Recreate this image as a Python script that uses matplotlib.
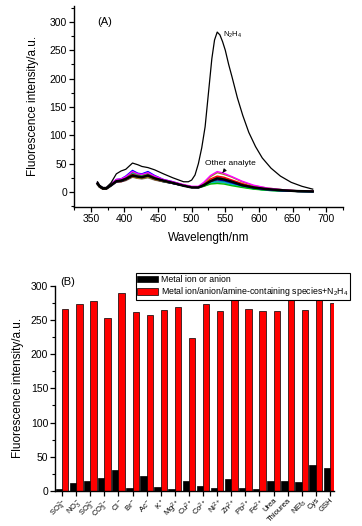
import matplotlib
matplotlib.use("Agg")
import matplotlib.pyplot as plt
from matplotlib.ticker import MultipleLocator
import numpy as np

plt.rcParams['font.family'] = ['Liberation Sans', 'DejaVu Sans']
plt.rcParams['mathtext.fontset'] = 'custom'
plt.rcParams['mathtext.rm'] = 'Liberation Sans'
plt.rcParams['mathtext.it'] = 'Liberation Sans:italic'

# ---- panel A data ----
wl_n2h4 = [360, 363, 368, 373, 380, 388, 395, 402, 412, 420, 426, 435, 445, 458,
           472, 488, 495, 500, 505, 510, 515, 520, 525, 530, 534, 538, 542, 546,
           550, 555, 560, 568, 576, 585, 595, 605, 618, 632, 648, 664, 680]
int_n2h4 = [18, 12, 8, 8, 16, 32, 37, 40, 51, 48, 45, 43, 39, 32,
            25, 18, 18, 21, 30, 50, 78, 115, 175, 235, 268, 282, 277, 265,
            250, 225, 203, 166, 135, 105, 80, 60, 42, 28, 17, 10, 5]

wl = [360, 363, 368, 373, 380, 388, 395, 402, 412, 420, 426, 435, 445, 458, 472,
      488, 500, 510, 518, 528, 538, 548, 560, 575, 592, 612, 635, 658, 680]
other_magenta = [16, 11, 7, 7, 14, 22, 23, 27, 36, 32, 31, 34, 28, 22, 18, 13, 10, 10, 17, 29, 36, 33, 27, 19, 12, 7, 4, 2, 1.5]
other_olive = [14, 9, 6, 6, 12, 19, 20, 22, 27, 24, 24, 26, 22, 19, 16, 12, 9, 9, 15, 27, 34, 31, 26, 18, 11, 7, 4, 2, 1.5]
other_red = [15, 10, 6, 6, 13, 21, 21, 24, 31, 28, 27, 30, 25, 20, 17, 12, 9, 9, 14, 23, 28, 26, 21, 15, 9, 6, 3, 2, 1]
other_blue = [16, 11, 7, 7, 14, 22, 23, 28, 38, 33, 32, 36, 29, 22, 18, 12, 9, 9, 12, 19, 22, 20, 16, 11, 7, 4, 2, 1, 0.5]
other_green = [15, 10, 6, 6, 13, 21, 22, 26, 35, 31, 30, 33, 27, 21, 17, 12, 9, 8, 10, 14, 15, 14, 11, 8, 5, 3, 1.5, 1, 0.5]
other_cyan = [14, 10, 6, 6, 12, 20, 21, 25, 33, 29, 28, 31, 26, 20, 16, 11, 9, 8, 11, 16, 18, 17, 13, 9, 6, 3, 2, 1, 0.5]
other_navy = [13, 9, 6, 6, 11, 18, 19, 22, 29, 26, 25, 28, 23, 19, 15, 11, 8, 8, 12, 20, 26, 24, 19, 13, 8, 5, 3, 1.5, 1]
other_purple = [14, 9, 6, 6, 12, 19, 20, 23, 30, 27, 26, 29, 24, 19, 16, 11, 8, 8, 12, 19, 23, 21, 17, 12, 7, 4, 2, 1, 0.5]
other_wine = [13, 9, 5, 5, 11, 18, 18, 21, 27, 25, 24, 27, 22, 18, 15, 11, 8, 8, 11, 18, 21, 20, 16, 11, 7, 4, 2, 1, 0.5]
other_gray = [12, 8, 5, 5, 10, 17, 18, 20, 26, 24, 23, 25, 21, 18, 15, 11, 8, 7, 10, 15, 17, 16, 13, 9, 6, 3, 2, 1, 0.5]
other_dcyan = [13, 9, 6, 6, 11, 19, 19, 22, 28, 25, 25, 28, 23, 18, 15, 11, 8, 8, 11, 17, 19, 18, 14, 10, 6, 3, 2, 1, 0.5]
other_orange = [14, 9, 6, 6, 12, 20, 20, 23, 29, 26, 25, 28, 23, 19, 16, 12, 9, 9, 13, 21, 25, 23, 18, 13, 8, 5, 3, 1.5, 1]
probe_only = [15, 10, 6, 6, 12, 19, 20, 23, 29, 27, 26, 29, 24, 20, 16, 11, 8, 8, 12, 19, 24, 22, 18, 12, 8, 5, 3, 1.5, 1]

others = [(other_gray, '#808080'), (other_wine, '#800000'), (other_dcyan, '#008080'),
          (other_purple, '#800080'), (other_navy, '#000080'), (other_orange, '#FF8000'),
          (other_cyan, '#00BFBF'), (other_green, '#00C000'), (other_red, '#FF0000'),
          (other_olive, '#A08020'), (other_blue, '#0000FF'), (other_magenta, '#FF00FF')]

# ---- panel B data ----
species = [r'SO$_4^{2-}$', r'NO$_3^-$', r'SO$_3^{2-}$', r'CO$_3^{2-}$', r'Cl$^-$',
           r'Br$^-$', r'Ac$^-$', r'K$^+$', r'Mg$^{2+}$', r'Cu$^{2+}$', r'Co$^{2+}$',
           r'Ni$^{2+}$', r'Zn$^{2+}$', r'Pb$^{2+}$', r'Fe$^{2+}$', 'Urea', 'Thiourea',
           r'NEt$_3$', 'Cys', 'GSH']
ion_only = [2.5, 11, 14, 19, 31, 3.5, 21.5, 5, 2.5, 14, 7, 3.5, 17, 4, 2.5, 14, 14, 13, 38, 34]
ion_plus_n2h4 = [267, 274, 278, 253, 290, 262, 257, 265, 269, 224, 274, 263, 282, 267,
                 263, 263, 292, 265, 295, 275]

fig = plt.figure(figsize=(3.62, 5.26), dpi=100)

def style_axes(ax):
    for s in ['top', 'right']:
        ax.spines[s].set_visible(False)
    for s in ['left', 'bottom']:
        ax.spines[s].set_linewidth(1.0)
    ax.tick_params(which='major', direction='out', length=3.5, width=0.9, labelsize=7.5, pad=1.5)
    ax.tick_params(which='minor', direction='out', length=2, width=0.8)

# ---- (A) ----
ax1 = fig.add_axes([0.2044, 0.607, 0.743, 0.3816])
for vals, col in others:
    ax1.plot(wl, vals, color=col, lw=1.0)
ax1.plot(wl, probe_only, color='black', lw=1.8)
ax1.plot(wl_n2h4, int_n2h4, color='black', lw=0.9)
ax1.set_xlim(325, 725)
ax1.set_ylim(-26, 328)
ax1.xaxis.set_major_locator(MultipleLocator(50))
ax1.xaxis.set_minor_locator(MultipleLocator(25))
ax1.yaxis.set_major_locator(MultipleLocator(50))
ax1.yaxis.set_minor_locator(MultipleLocator(25))
ax1.set_xticks([350, 400, 450, 500, 550, 600, 650, 700])
ax1.set_yticks([0, 50, 100, 150, 200, 250, 300])
style_axes(ax1)
ax1.set_xlabel('Wavelength/nm', fontsize=8.5, labelpad=6)
ax1.set_ylabel('Fluorescence intensity/a.u.', fontsize=8.5, labelpad=8)
ax1.text(360, 300, '(A)', fontsize=8, ha='left', va='center')
ax1.text(547, 277, r'N$_2$H$_4$', fontsize=5.5, ha='left', va='center')
ax1.annotate('Other analyte', xy=(546, 34), xytext=(558, 51), fontsize=6,
             ha='center', va='center',
             arrowprops=dict(arrowstyle='-|>', color='black', lw=0.7,
                             mutation_scale=5, shrinkA=3, shrinkB=0))

# ---- (B) ----
ax2 = fig.add_axes([0.152, 0.0671, 0.771, 0.389])
x = np.arange(len(species))
w = 0.45
ax2.bar(x - w / 2, ion_only, width=w, color='black', edgecolor='black', lw=0.5,
        label='Metal ion or anion')
ax2.bar(x + w / 2, ion_plus_n2h4, width=w, color='#FF0000', edgecolor='black', lw=0.5,
        label=r'Metal ion/anion/amine-containing species+N$_2$H$_4$')
ax2.set_xlim(-0.5, 19.3)
ax2.set_ylim(0, 300)
ax2.yaxis.set_major_locator(MultipleLocator(50))
ax2.yaxis.set_minor_locator(MultipleLocator(25))
ax2.set_xticks(x)
ax2.set_xticklabels(species, rotation=45, ha='right', rotation_mode='anchor', fontsize=5.5)
style_axes(ax2)
ax2.tick_params(axis='x', labelsize=5.5, pad=1)
ax2.set_ylabel('Fluorescence intensity/a.u.', fontsize=8.5, labelpad=5)
ax2.text(0.02, 1.02, '(B)', transform=ax2.transAxes, fontsize=8, ha='left', va='center')
leg = ax2.legend(loc='upper right', bbox_to_anchor=(1.057, 1.063), borderaxespad=0,
                 fontsize=6.3, frameon=True, fancybox=False, framealpha=1,
                 edgecolor='black', handlelength=2.4, handleheight=0.8,
                 handletextpad=0.3, labelspacing=0.15, borderpad=0.2)
leg.get_frame().set_linewidth(0.8)

fig.savefig('out.png', dpi=100)
